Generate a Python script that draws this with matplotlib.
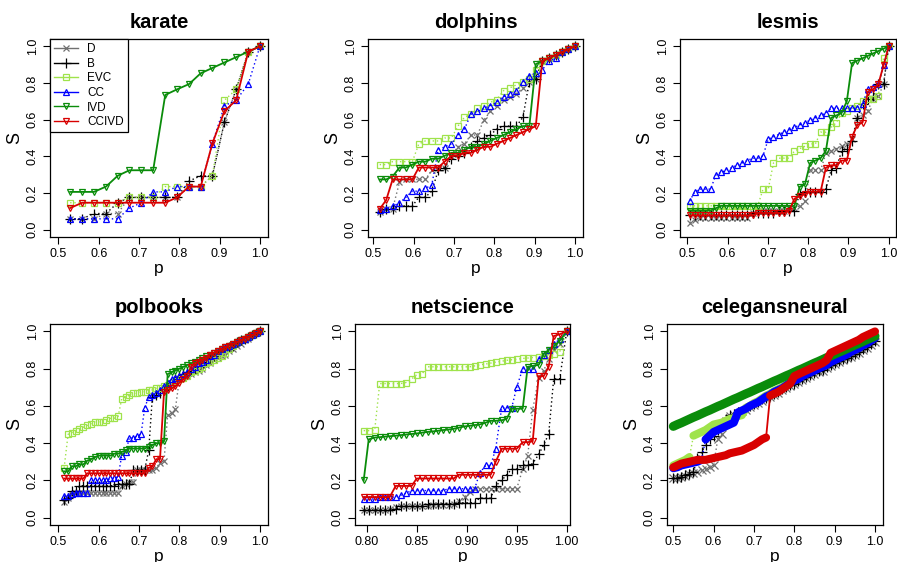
import matplotlib
matplotlib.use('Agg')
import matplotlib.pyplot as plt
from matplotlib.lines import Line2D

plt.rcParams['font.family'] = ['Liberation Sans', 'DejaVu Sans']

names = ['D', 'B', 'EVC', 'CC', 'IVD', 'CCIVD']

# ---------------- karate ----------------
karate_p = [0.529, 0.559, 0.588, 0.618, 0.647, 0.676, 0.706, 0.735, 0.765, 0.794,
            0.824, 0.853, 0.882, 0.912, 0.941, 0.971, 1.0]
karate_D = [0.059, 0.059, 0.059, 0.088, 0.088, 0.176, 0.176, 0.176, 0.176, 0.176,
            0.235, 0.235, 0.294, 0.588, 0.765, 0.97, 1.0]
karate_B = [0.059, 0.059, 0.088, 0.088, 0.147, 0.176, 0.176, 0.176, 0.176, 0.176,
            0.265, 0.294, 0.294, 0.588, 0.765, 0.97, 1.0]
karate_EVC = [0.147, 0.147, 0.147, 0.147, 0.147, 0.176, 0.176, 0.176, 0.235, 0.235,
              0.235, 0.235, 0.294, 0.706, 0.765, 0.97, 1.0]
karate_CC = [0.059, 0.059, 0.059, 0.059, 0.059, 0.118, 0.147, 0.206, 0.206, 0.235,
             0.235, 0.235, 0.47, 0.676, 0.706, 0.794, 1.0]
karate_IVD = [0.206, 0.206, 0.206, 0.235, 0.294, 0.324, 0.324, 0.324, 0.735, 0.765,
              0.794, 0.853, 0.882, 0.912, 0.941, 0.971, 1.0]
karate_CCIVD = [0.118, 0.147, 0.147, 0.147, 0.147, 0.147, 0.147, 0.147, 0.147, 0.176,
                0.235, 0.235, 0.471, 0.647, 0.706, 0.971, 1.0]

# ---------------- dolphins ----------------
dolphins_p = [0.516, 0.532, 0.548, 0.565, 0.581, 0.597, 0.613, 0.629, 0.645, 0.661,
              0.677, 0.694, 0.710, 0.726, 0.742, 0.758, 0.774, 0.790, 0.806, 0.823,
              0.839, 0.855, 0.871, 0.887, 0.903, 0.919, 0.935, 0.952, 0.968, 0.984, 1.0]
dolphins_D = [0.097, 0.113, 0.113, 0.258, 0.274, 0.274, 0.274, 0.274, 0.323, 0.335,
              0.339, 0.403, 0.452, 0.468, 0.516, 0.516, 0.597, 0.645, 0.677, 0.710,
              0.726, 0.742, 0.774, 0.806, 0.823, 0.919, 0.935, 0.952, 0.968, 0.984, 1.0]
dolphins_B = [0.097, 0.113, 0.113, 0.129, 0.129, 0.129, 0.177, 0.177, 0.210, 0.323,
              0.339, 0.387, 0.403, 0.419, 0.452, 0.484, 0.5, 0.516, 0.548, 0.565,
              0.565, 0.565, 0.613, 0.806, 0.823, 0.919, 0.935, 0.952, 0.968, 0.984, 1.0]
dolphins_EVC = [0.355, 0.355, 0.371, 0.371, 0.371, 0.371, 0.468, 0.484, 0.484, 0.484,
                0.5, 0.5, 0.565, 0.613, 0.629, 0.661, 0.677, 0.694, 0.710, 0.758,
                0.774, 0.790, 0.806, 0.823, 0.871, 0.919, 0.935, 0.952, 0.968, 0.984, 1.0]
dolphins_CC = [0.108, 0.113, 0.129, 0.145, 0.177, 0.210, 0.210, 0.226, 0.242, 0.435,
               0.452, 0.468, 0.516, 0.548, 0.629, 0.645, 0.661, 0.677, 0.694, 0.726,
               0.742, 0.758, 0.806, 0.839, 0.855, 0.871, 0.919, 0.935, 0.968, 0.984, 1.0]
dolphins_IVD = [0.274, 0.274, 0.290, 0.339, 0.339, 0.355, 0.371, 0.371, 0.387, 0.387,
                0.403, 0.419, 0.419, 0.435, 0.452, 0.452, 0.468, 0.484, 0.5, 0.516,
                0.532, 0.548, 0.565, 0.565, 0.903, 0.919, 0.935, 0.952, 0.968, 0.984, 1.0]
dolphins_CCIVD = [0.113, 0.161, 0.274, 0.274, 0.274, 0.274, 0.339, 0.339, 0.339, 0.339,
                  0.371, 0.403, 0.403, 0.419, 0.419, 0.435, 0.452, 0.452, 0.468, 0.484,
                  0.5, 0.516, 0.532, 0.548, 0.565, 0.919, 0.935, 0.952, 0.968, 0.984, 1.0]

# ---------------- lesmis ----------------
lesmis_p = [0.506, 0.519, 0.532, 0.545, 0.558, 0.571, 0.584, 0.597, 0.610, 0.623,
            0.636, 0.649, 0.662, 0.675, 0.688, 0.701, 0.714, 0.727, 0.740, 0.753,
            0.766, 0.779, 0.792, 0.805, 0.818, 0.831, 0.844, 0.857, 0.870, 0.883,
            0.896, 0.909, 0.922, 0.935, 0.948, 0.961, 0.974, 0.987, 1.0]
lesmis_D = [0.039, 0.052, 0.065, 0.065, 0.065, 0.065, 0.065, 0.065, 0.065, 0.065,
            0.065, 0.065, 0.091, 0.104, 0.104, 0.104, 0.104, 0.104, 0.104, 0.117,
            0.117, 0.13, 0.156, 0.325, 0.325, 0.325, 0.416, 0.429, 0.442, 0.455,
            0.468, 0.494, 0.61, 0.623, 0.649, 0.714, 0.727, 0.792, 1.0]
lesmis_B = [0.078, 0.078, 0.078, 0.078, 0.078, 0.078, 0.078, 0.078, 0.078, 0.078,
            0.078, 0.078, 0.091, 0.091, 0.091, 0.091, 0.091, 0.104, 0.104, 0.104,
            0.104, 0.195, 0.208, 0.208, 0.208, 0.208, 0.221, 0.325, 0.338, 0.429,
            0.442, 0.481, 0.61, 0.688, 0.714, 0.727, 0.792, 0.792, 1.0]
lesmis_EVC = [0.13, 0.13, 0.13, 0.13, 0.13, 0.13, 0.13, 0.13, 0.13, 0.13,
              0.13, 0.13, 0.13, 0.13, 0.221, 0.221, 0.364, 0.39, 0.39, 0.39,
              0.429, 0.442, 0.455, 0.468, 0.468, 0.532, 0.532, 0.558, 0.584, 0.636,
              0.649, 0.662, 0.675, 0.701, 0.714, 0.714, 0.727, 0.935, 1.0]
lesmis_CC = [0.156, 0.208, 0.221, 0.221, 0.221, 0.299, 0.312, 0.325, 0.338, 0.351,
             0.364, 0.377, 0.390, 0.390, 0.403, 0.494, 0.506, 0.519, 0.532, 0.545,
             0.558, 0.571, 0.584, 0.597, 0.610, 0.623, 0.636, 0.662, 0.662, 0.662,
             0.662, 0.662, 0.662, 0.688, 0.766, 0.779, 0.792, 0.896, 1.0]
lesmis_IVD = [0.104, 0.104, 0.104, 0.104, 0.104, 0.117, 0.13, 0.13, 0.13, 0.13,
              0.13, 0.13, 0.13, 0.13, 0.13, 0.13, 0.13, 0.13, 0.13, 0.13,
              0.13, 0.234, 0.247, 0.364, 0.377, 0.39, 0.43, 0.61, 0.623, 0.636,
              0.701, 0.909, 0.922, 0.935, 0.948, 0.961, 0.974, 0.987, 1.0]
lesmis_CCIVD = [0.078, 0.078, 0.078, 0.078, 0.078, 0.078, 0.078, 0.078, 0.078, 0.078,
                0.078, 0.078, 0.078, 0.091, 0.091, 0.091, 0.091, 0.091, 0.091, 0.104,
                0.169, 0.182, 0.195, 0.208, 0.208, 0.208, 0.338, 0.351, 0.351, 0.377,
                0.377, 0.506, 0.571, 0.584, 0.753, 0.766, 0.792, 0.896, 1.0]

# ---------------- polbooks ----------------
polbooks_p = [0.514, 0.524, 0.533, 0.543, 0.552, 0.562, 0.571, 0.581, 0.590, 0.600,
              0.610, 0.619, 0.629, 0.638, 0.648, 0.657, 0.667, 0.676, 0.686, 0.695,
              0.705, 0.714, 0.724, 0.733, 0.743, 0.752, 0.762, 0.771, 0.781, 0.790,
              0.800, 0.810, 0.819, 0.829, 0.838, 0.848, 0.857, 0.867, 0.876, 0.886,
              0.895, 0.905, 0.914, 0.924, 0.933, 0.943, 0.952, 0.962, 0.971, 0.981,
              0.990, 1.0]
polbooks_D = [0.086, 0.105, 0.124, 0.133, 0.133, 0.133, 0.133, 0.133, 0.133, 0.133,
              0.133, 0.133, 0.133, 0.133, 0.133, 0.171, 0.181, 0.190, 0.190, 0.257,
              0.257, 0.257, 0.257, 0.257, 0.267, 0.295, 0.305, 0.552, 0.562, 0.581,
              0.743, 0.752, 0.762, 0.771, 0.781, 0.790, 0.800, 0.819, 0.829, 0.848,
              0.857, 0.867, 0.876, 0.895, 0.905, 0.924, 0.933, 0.952, 0.962, 0.981,
              0.990, 1.0]
polbooks_B = [0.095, 0.105, 0.143, 0.143, 0.171, 0.171, 0.171, 0.171, 0.171, 0.171,
              0.171, 0.171, 0.171, 0.171, 0.181, 0.181, 0.181, 0.181, 0.257, 0.257,
              0.257, 0.257, 0.362, 0.648, 0.657, 0.667, 0.686, 0.705, 0.724, 0.743,
              0.762, 0.771, 0.781, 0.790, 0.800, 0.810, 0.829, 0.838, 0.857, 0.867,
              0.886, 0.895, 0.905, 0.914, 0.924, 0.943, 0.952, 0.962, 0.971, 0.981,
              0.990, 1.0]
polbooks_EVC = [0.267, 0.448, 0.457, 0.467, 0.476, 0.486, 0.495, 0.505, 0.514, 0.514,
                0.514, 0.524, 0.533, 0.533, 0.543, 0.638, 0.648, 0.657, 0.667, 0.667,
                0.676, 0.676, 0.686, 0.686, 0.695, 0.695, 0.705, 0.714, 0.724, 0.733,
                0.743, 0.752, 0.762, 0.781, 0.790, 0.800, 0.810, 0.829, 0.838, 0.848,
                0.857, 0.867, 0.886, 0.905, 0.924, 0.943, 0.952, 0.962, 0.971, 0.981,
                0.990, 1.0]
polbooks_CC = [0.114, 0.114, 0.124, 0.133, 0.133, 0.133, 0.133, 0.200, 0.200, 0.200,
               0.200, 0.200, 0.210, 0.210, 0.219, 0.333, 0.352, 0.429, 0.429, 0.438,
               0.448, 0.590, 0.648, 0.657, 0.667, 0.686, 0.705, 0.724, 0.743, 0.752,
               0.762, 0.771, 0.781, 0.800, 0.810, 0.829, 0.838, 0.848, 0.867, 0.876,
               0.895, 0.905, 0.914, 0.924, 0.933, 0.943, 0.952, 0.962, 0.971, 0.981,
               0.990, 1.0]
polbooks_IVD = [0.248, 0.248, 0.276, 0.276, 0.286, 0.286, 0.305, 0.314, 0.324, 0.333,
                0.333, 0.333, 0.333, 0.343, 0.343, 0.352, 0.362, 0.371, 0.371, 0.371,
                0.371, 0.371, 0.381, 0.390, 0.400, 0.400, 0.410, 0.771, 0.781, 0.790,
                0.800, 0.810, 0.819, 0.829, 0.838, 0.848, 0.857, 0.867, 0.876, 0.886,
                0.895, 0.905, 0.914, 0.924, 0.933, 0.943, 0.952, 0.962, 0.971, 0.981,
                0.990, 1.0]
polbooks_CCIVD = [0.210, 0.210, 0.210, 0.210, 0.210, 0.210, 0.238, 0.238, 0.238, 0.238,
                  0.238, 0.238, 0.238, 0.238, 0.238, 0.238, 0.238, 0.238, 0.238, 0.238,
                  0.238, 0.238, 0.267, 0.276, 0.314, 0.314, 0.676, 0.686, 0.695, 0.705,
                  0.724, 0.743, 0.762, 0.810, 0.829, 0.838, 0.848, 0.857, 0.876, 0.886,
                  0.895, 0.905, 0.914, 0.924, 0.933, 0.943, 0.952, 0.962, 0.971, 0.981,
                  0.990, 1.0]

# ---------------- netscience ----------------
netscience_p = [0.797, 0.802, 0.808, 0.813, 0.818, 0.823, 0.829, 0.834, 0.839, 0.845,
                0.850, 0.855, 0.861, 0.866, 0.871, 0.876, 0.882, 0.887, 0.892, 0.898,
                0.903, 0.908, 0.913, 0.919, 0.924, 0.929, 0.935, 0.940, 0.945, 0.950,
                0.956, 0.961, 0.966, 0.972, 0.977, 0.982, 0.987, 0.993, 1.0]
netscience_D = [0.04, 0.04, 0.04, 0.04, 0.04, 0.045, 0.055, 0.06, 0.06, 0.06,
                0.06, 0.06, 0.06, 0.065, 0.065, 0.065, 0.07, 0.075, 0.09, 0.11,
                0.14, 0.155, 0.155, 0.155, 0.155, 0.155, 0.155, 0.155, 0.155, 0.155,
                0.26, 0.33, 0.58, 0.75, 0.79, 0.85, 0.9, 0.93, 1.0]
netscience_B = [0.04, 0.04, 0.04, 0.04, 0.04, 0.04, 0.045, 0.06, 0.06, 0.06,
                0.06, 0.06, 0.075, 0.075, 0.075, 0.075, 0.075, 0.075, 0.08, 0.08,
                0.08, 0.08, 0.105, 0.105, 0.105, 0.17, 0.2, 0.23, 0.26, 0.26,
                0.28, 0.28, 0.29, 0.34, 0.39, 0.45, 0.745, 0.745, 1.0]
netscience_EVC = [0.467, 0.467, 0.47, 0.72, 0.72, 0.72, 0.72, 0.72, 0.725, 0.745,
                  0.768, 0.77, 0.81, 0.81, 0.81, 0.81, 0.81, 0.81, 0.81, 0.81,
                  0.81, 0.815, 0.82, 0.825, 0.83, 0.835, 0.84, 0.845, 0.848, 0.85,
                  0.855, 0.857, 0.86, 0.865, 0.87, 0.875, 0.88, 0.89, 1.0]
netscience_CC = [0.1, 0.1, 0.1, 0.11, 0.11, 0.11, 0.11, 0.12, 0.13, 0.145,
                 0.145, 0.145, 0.145, 0.145, 0.145, 0.145, 0.155, 0.155, 0.155, 0.155,
                 0.155, 0.155, 0.24, 0.28, 0.28, 0.37, 0.59, 0.59, 0.59, 0.7,
                 0.8, 0.8, 0.8, 0.85, 0.875, 0.9, 0.93, 0.96, 1.0]
netscience_IVD = [0.2, 0.42, 0.43, 0.432, 0.435, 0.437, 0.44, 0.443, 0.446, 0.449,
                  0.452, 0.456, 0.46, 0.463, 0.466, 0.47, 0.473, 0.477, 0.483, 0.49,
                  0.493, 0.497, 0.5, 0.51, 0.52, 0.52, 0.523, 0.53, 0.585, 0.585,
                  0.585, 0.81, 0.815, 0.82, 0.88, 0.9, 0.92, 0.95, 1.0]
netscience_CCIVD = [0.11, 0.11, 0.11, 0.11, 0.11, 0.11, 0.17, 0.17, 0.17, 0.17,
                    0.21, 0.21, 0.21, 0.21, 0.21, 0.21, 0.21, 0.21, 0.23, 0.23,
                    0.23, 0.23, 0.23, 0.23, 0.23, 0.3, 0.37, 0.37, 0.37, 0.37,
                    0.405, 0.405, 0.41, 0.76, 0.76, 0.81, 0.975, 0.985, 1.0]

# ---------------- celegansneural ----------------
celegans_p = [0.50, 0.51, 0.52, 0.53, 0.54, 0.55, 0.56, 0.57, 0.58, 0.59,
              0.60, 0.61, 0.62, 0.63, 0.64, 0.65, 0.66, 0.67, 0.68, 0.69,
              0.70, 0.71, 0.72, 0.73, 0.74, 0.75, 0.76, 0.77, 0.78, 0.79,
              0.80, 0.81, 0.82, 0.83, 0.84, 0.85, 0.86, 0.87, 0.88, 0.89,
              0.90, 0.91, 0.92, 0.93, 0.94, 0.95, 0.96, 0.97, 0.98, 0.99,
              1.00]
celegans_D = [0.21, 0.215, 0.22, 0.225, 0.235, 0.24, 0.245, 0.255, 0.26, 0.27,
              0.28, 0.42, 0.45, 0.52, 0.545, 0.55, 0.56, 0.57, 0.58, 0.595,
              0.605, 0.615, 0.625, 0.64, 0.65, 0.66, 0.67, 0.685, 0.695, 0.705,
              0.715, 0.73, 0.74, 0.75, 0.76, 0.77, 0.78, 0.79, 0.805, 0.815,
              0.825, 0.835, 0.845, 0.855, 0.865, 0.875, 0.885, 0.90, 0.91, 0.925,
              0.945]
celegans_B = [0.21, 0.215, 0.22, 0.23, 0.235, 0.245, 0.32, 0.35, 0.39, 0.42,
              0.44, 0.47, 0.50, 0.53, 0.55, 0.555, 0.565, 0.575, 0.59, 0.60,
              0.61, 0.62, 0.635, 0.645, 0.655, 0.665, 0.675, 0.69, 0.70, 0.71,
              0.72, 0.735, 0.745, 0.755, 0.765, 0.775, 0.785, 0.795, 0.81, 0.82,
              0.83, 0.84, 0.85, 0.86, 0.87, 0.88, 0.89, 0.905, 0.915, 0.93,
              0.95]
celegans_EVC = [0.28, 0.29, 0.30, 0.31, 0.325, 0.44, 0.45, 0.46, 0.47, 0.485,
                0.50, 0.505, 0.51, 0.52, 0.53, 0.535, 0.545, 0.55, 0.59, 0.60,
                0.615, 0.625, 0.64, 0.655, 0.665, 0.68, 0.69, 0.70, 0.715, 0.73,
                0.74, 0.75, 0.765, 0.775, 0.785, 0.795, 0.805, 0.815, 0.825, 0.84,
                0.85, 0.86, 0.87, 0.88, 0.895, 0.905, 0.915, 0.93, 0.94, 0.955,
                0.97]
celegans_CC = [0.265, 0.27, 0.28, 0.285, 0.29, 0.295, 0.30, 0.31, 0.42, 0.44,
               0.46, 0.47, 0.48, 0.49, 0.50, 0.51, 0.565, 0.575, 0.585, 0.60,
               0.61, 0.62, 0.635, 0.65, 0.66, 0.675, 0.685, 0.695, 0.71, 0.725,
               0.735, 0.745, 0.76, 0.77, 0.78, 0.79, 0.80, 0.81, 0.82, 0.835,
               0.845, 0.855, 0.865, 0.875, 0.89, 0.90, 0.91, 0.925, 0.935, 0.95,
               0.965]
celegans_IVD = [0.49, 0.50, 0.509, 0.519, 0.529, 0.539, 0.548, 0.558, 0.568, 0.577,
                0.587, 0.597, 0.606, 0.616, 0.626, 0.636, 0.645, 0.655, 0.665, 0.674,
                0.684, 0.694, 0.703, 0.713, 0.723, 0.733, 0.742, 0.752, 0.762, 0.771,
                0.781, 0.791, 0.80, 0.81, 0.82, 0.83, 0.839, 0.849, 0.859, 0.868,
                0.878, 0.888, 0.897, 0.907, 0.917, 0.927, 0.936, 0.946, 0.956, 0.965,
                0.975]
celegans_CCIVD = [0.27, 0.28, 0.29, 0.295, 0.30, 0.305, 0.31, 0.31, 0.31, 0.315,
                  0.32, 0.325, 0.33, 0.335, 0.345, 0.35, 0.355, 0.36, 0.37, 0.38,
                  0.39, 0.405, 0.42, 0.43, 0.655, 0.665, 0.675, 0.69, 0.705, 0.72,
                  0.76, 0.77, 0.78, 0.79, 0.80, 0.81, 0.82, 0.83, 0.845, 0.885,
                  0.895, 0.905, 0.915, 0.925, 0.935, 0.945, 0.955, 0.97, 0.98, 0.99,
                  1.0]

# series styles (R-like)
colors = ['#707070', 'black', '#9FE34B', '#0000FF', '#0A8C0A', '#D80000']
markers = ['x', '+', 's', '^', 'v', 'v']
msizes = [5, 6.5, 4.5, 5, 5, 5]
lstyles = [(0, (1, 2)), (0, (1, 2)), (0, (1, 2)), (0, (1, 2)), '-', '-']
lwidths = [1.0, 1.0, 1.0, 1.0, 1.3, 1.3]

W, H = 897, 562


def box(l, r, t, b):
    return [l / W, 1 - b / H, (r - l) / W, (b - t) / H]


panels = [
    ('karate', box(50, 268, 39, 237), (0.479, 1.02), karate_p,
     [karate_D, karate_B, karate_EVC, karate_CC, karate_IVD, karate_CCIVD]),
    ('dolphins', box(368, 583, 39, 237), (0.487, 1.02), dolphins_p,
     [dolphins_D, dolphins_B, dolphins_EVC, dolphins_CC, dolphins_IVD, dolphins_CCIVD]),
    ('lesmis', box(680, 896, 39, 237), (0.482, 1.018), lesmis_p,
     [lesmis_D, lesmis_B, lesmis_EVC, lesmis_CC, lesmis_IVD, lesmis_CCIVD]),
    ('polbooks', box(50, 268, 324, 525), (0.479, 1.02), polbooks_p,
     [polbooks_D, polbooks_B, polbooks_EVC, polbooks_CC, polbooks_IVD, polbooks_CCIVD]),
    ('netscience', box(355, 570, 324, 525), (0.7883, 1.0033), netscience_p,
     [netscience_D, netscience_B, netscience_EVC, netscience_CC, netscience_IVD, netscience_CCIVD]),
    ('celegansneural', box(667, 883, 324, 525), (0.4844, 1.0198), celegans_p,
     [celegans_D, celegans_B, celegans_EVC, celegans_CC, celegans_IVD, celegans_CCIVD]),
]

fig = plt.figure(figsize=(W / 100, H / 100), dpi=100)

for title, rect, xlim, p, series in panels:
    ax = fig.add_axes(rect)
    dense = title == 'celegansneural'
    for i, vals in enumerate(series):
        if dense and markers[i] in ('s', '^', 'v'):
            # very dense points in the original: draw them as a solid band,
            # keeping the thin connector line across the jumps
            ax.plot(p, vals, color=colors[i], linestyle=lstyles[i], linewidth=lwidths[i])
            band = 6.5 if names[i] == 'IVD' else 5.8
            start = 0
            for j in range(1, len(p) + 1):
                if j == len(p) or abs(vals[j] - vals[j - 1]) > 0.08:
                    ax.plot(p[start:j], vals[start:j], color=colors[i], linewidth=band,
                            solid_capstyle='round')
                    start = j
            continue
        ms = msizes[i] * 1.2 if dense else msizes[i]
        ax.plot(p, vals, color=colors[i], linestyle=lstyles[i], linewidth=lwidths[i],
                marker=markers[i], markersize=ms, markeredgewidth=0.9,
                markerfacecolor='none', markeredgecolor=colors[i])
    ax.set_xlim(xlim)
    ax.set_ylim(-0.04, 1.04)
    if title == 'netscience':
        ax.set_xticks([0.80, 0.85, 0.90, 0.95, 1.00])
        ax.set_xticklabels(['0.80', '0.85', '0.90', '0.95', '1.00'])
    else:
        ax.set_xticks([0.5, 0.6, 0.7, 0.8, 0.9, 1.0])
        ax.set_xticklabels(['0.5', '0.6', '0.7', '0.8', '0.9', '1.0'])
    ax.set_yticks([0.0, 0.2, 0.4, 0.6, 0.8, 1.0])
    ax.set_yticklabels(['0.0', '0.2', '0.4', '0.6', '0.8', '1.0'], rotation=90, va='center')
    ax.tick_params(direction='out', length=5, width=0.8, labelsize=9, pad=3)
    for sp in ax.spines.values():
        sp.set_linewidth(0.9)
    ax.set_title(title, fontsize=14.5, fontweight='bold', pad=8)
    ax.set_xlabel('p', fontsize=12.5, labelpad=0.5)
    ax.set_ylabel('S', fontsize=13, labelpad=3)

    if title == 'karate':
        handles = [Line2D([0], [0], color=colors[i], marker=markers[i], markersize=msizes[i],
                          markerfacecolor='none', markeredgewidth=0.9, linewidth=1.0)
                   for i in range(6)]
        leg = ax.legend(handles, names, loc='upper left', bbox_to_anchor=(0, 1),
                        borderaxespad=0, fancybox=False, edgecolor='black', framealpha=1,
                        fontsize=8.5, handlelength=2.0, handletextpad=0.8,
                        labelspacing=0.22, borderpad=0.35)
        leg.get_frame().set_linewidth(0.9)

fig.savefig('out.png', dpi=100)
